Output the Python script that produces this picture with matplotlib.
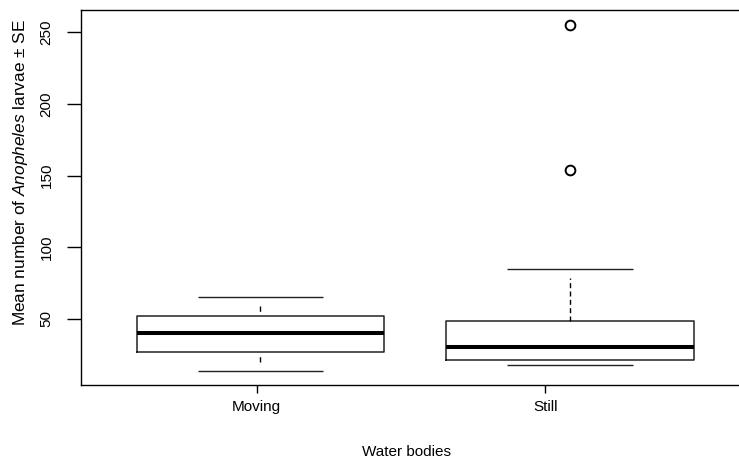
import numpy as np
import matplotlib
matplotlib.use("Agg")
import matplotlib.pyplot as plt

plt.rcParams['font.family'] = ['Liberation Sans', 'DejaVu Sans']
plt.rcParams['mathtext.fontset'] = 'custom'
plt.rcParams['mathtext.rm'] = 'Liberation Sans'
plt.rcParams['mathtext.it'] = 'Liberation Sans:italic'
plt.rcParams['lines.scale_dashes'] = False

# values
groups = ["Moving", "Still"]
q1 = [26.7, 21.2]
medians = [39.8, 30.4]
q3 = [52.1, 48.4]
whisker_hi = [58.8, 78.3]
whisker_lo = [19.2, 21.2]
cap_hi = [64.9, 84.6]
cap_lo = [13.3, 17.9]
outliers = [[], [154.1, 255.1]]

box_pos = [1.013, 2.085]
box_w = 0.858
cap_w = 0.435

fig = plt.figure(figsize=(7.39, 4.63), dpi=100)
ax = fig.add_axes([80.7/739, (463-385.3)/463, (745-80.7)/739, 375.3/463])

stats = []
for i in range(len(groups)):
    stats.append(dict(med=medians[i], q1=q1[i], q3=q3[i],
                      whislo=whisker_lo[i], whishi=whisker_hi[i],
                      fliers=outliers[i], label=groups[i]))

res = ax.bxp(stats, positions=box_pos, widths=box_w, showcaps=False,
             boxprops=dict(color='#222222', lw=1.1),
             medianprops=dict(color='black', lw=2.9, solid_capstyle='butt'),
             whiskerprops=dict(color='black', lw=1.0),
             flierprops=dict(marker='o', mfc='none', mec='black', ms=7, mew=1.4))

# whisker dash patterns (points)
w = res['whiskers']
w[0].set_linestyle((3.8, (3.8, 3.4)))
w[1].set_linestyle((3.8, (3.8, 3.4)))
w[2].set_linestyle('none')
w[3].set_linestyle((0, (3.6, 2.4)))

for i in range(len(groups)):
    ax.hlines([cap_lo[i], cap_hi[i]], box_pos[i] - cap_w/2, box_pos[i] + cap_w/2,
              color='#222222', lw=1.0)

ax.set_xlim(0.3902, 2.692)
ax.set_ylim(3.5, 265.6)
ax.set_xticks([1, 2])
ax.set_xticklabels(groups)
ax.set_yticks([50, 100, 150, 200, 250])

for s in ax.spines.values():
    s.set_linewidth(1.0)

ax.tick_params(axis='y', length=10, width=1.0, pad=9.6, labelsize=11, labelrotation=90)
ax.tick_params(axis='x', length=5.8, width=1.0, pad=4.5, labelsize=11)
for t in ax.get_yticklabels():
    t.set_va('center')

fig.text(21/739, 1 - 173/463, r'Mean number of $\mathit{Anopheles}$ larvae ± SE',
         rotation=90, ha='center', va='center', fontsize=12.4)
fig.text(406.7/739, 1 - 452/463, 'Water bodies', ha='center', va='center', fontsize=11)

fig.savefig("out.png", dpi=100)
